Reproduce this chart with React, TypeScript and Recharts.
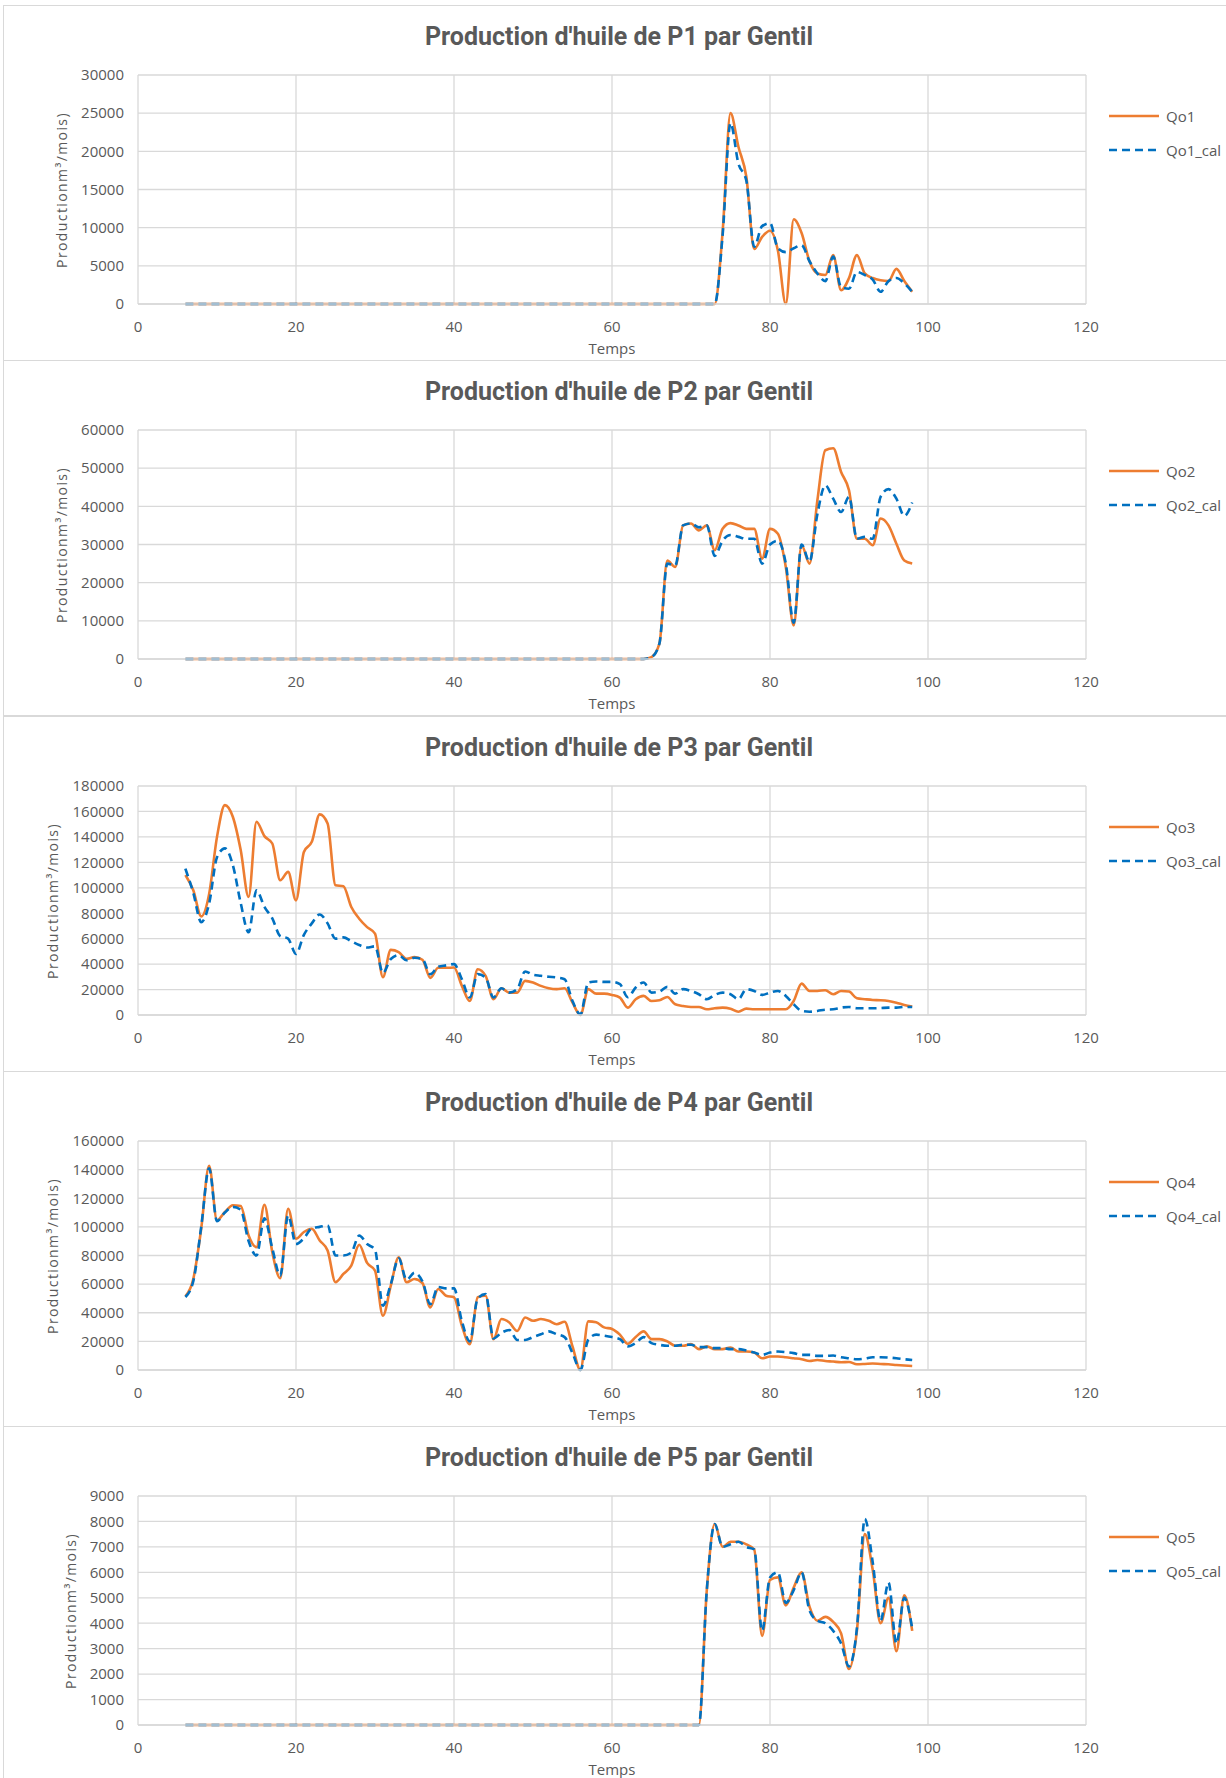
import React from 'react';
import { LineChart, Line, XAxis, YAxis, CartesianGrid } from 'recharts';

// Temps (mois) — flat zero runs keep only their end points
const TEMPS_P1 = [6, 73, 74, 75, 76, 77, 78, 79, 80, 81, 82, 83, 84, 85, 86, 87, 88, 89, 90, 91, 92, 93, 94, 95, 96, 97, 98];
const QO1 = [0, 0, 9400, 25000, 20600, 16700, 7200, 8800, 9600, 7000, 0, 11100, 9300, 5600, 4000, 3800, 6400, 1800, 3400, 6400, 4000, 3400, 3100, 3000, 4600, 3000, 1600];
const QO1_CAL = [0, 0, 9000, 23700, 18400, 16200, 7500, 10200, 10600, 7300, 6800, 7300, 7700, 5600, 4000, 3000, 6200, 2200, 2000, 4200, 3800, 3200, 1600, 3000, 3400, 2700, 1600];

const TEMPS_P2 = [6, 64, 65, 66, 67, 68, 69, 70, 71, 72, 73, 74, 75, 76, 77, 78, 79, 80, 81, 82, 83, 84, 85, 86, 87, 88, 89, 90, 91, 92, 93, 94, 95, 96, 97, 98];
const QO2 = [0, 0, 500, 4000, 25800, 24100, 35000, 35500, 33700, 35000, 28500, 34100, 35600, 35000, 34100, 34100, 26300, 34100, 32800, 24100, 8800, 29800, 25000, 41600, 54700, 55200, 49000, 44200, 31500, 31500, 29800, 36800, 35000, 30200, 25800, 25000];
const QO2_CAL = [0, 0, 500, 4000, 25000, 24500, 35000, 35500, 34500, 35000, 27000, 31000, 32500, 32000, 31500, 31500, 25000, 30000, 31000, 25000, 9500, 30000, 25500, 38000, 45500, 42000, 38500, 42500, 31500, 32000, 31500, 42500, 44500, 42000, 37500, 41000];

const TEMPS_FULL = [
  6, 7, 8, 9, 10, 11, 12, 13, 14, 15, 16, 17, 18, 19, 20, 21, 22, 23, 24, 25, 26, 27, 28, 29, 30, 31, 32, 33, 34, 35, 36, 37, 38, 39,
  40, 41, 42, 43, 44, 45, 46, 47, 48, 49, 50, 51, 52, 53, 54, 55, 56, 57, 58, 59, 60, 61, 62, 63, 64, 65, 66, 67, 68, 69,
  70, 71, 72, 73, 74, 75, 76, 77, 78, 79, 80, 81, 82, 83, 84, 85, 86, 87, 88, 89, 90, 91, 92, 93, 94, 95, 96, 97, 98,
];
const QO3 = [
  110000, 98000, 77500, 95000, 140000, 165000, 155800, 129600, 92800, 151900, 140600, 134800, 105900, 112500, 90100, 128200, 136100, 157700, 150600, 102000, 101200, 84900, 75700, 69100, 63900, 29700, 51200, 49400, 44100, 45500, 43400, 29200, 37100, 37100,
  37300, 22900, 11000, 36000, 30800, 12400, 21000, 17600, 17600, 26800, 25500, 22900, 21000, 20300, 21000, 9700, 0, 20300, 16800, 16800, 15800, 13700, 5800, 12400, 15000, 11000, 11600, 14200, 8400, 7100,
  6300, 6300, 4500, 5300, 5800, 5000, 2600, 5000, 4500, 4500, 4500, 4500, 4500, 11000, 24700, 18900, 18900, 19500, 16300, 18900, 18400, 13100, 12400, 11800, 11600, 11000, 9700, 7900, 6600,
];
const QO3_CAL = [
  115000, 96000, 73000, 87500, 124000, 131000, 118000, 88000, 65000, 98000, 85000, 76000, 62000, 60000, 48000, 63000, 72000, 79000, 72000, 60000, 61000, 58000, 55000, 53000, 54000, 33000, 44000, 47000, 43000, 45000, 44000, 32000, 38000, 39000,
  40000, 28100, 13700, 32100, 29500, 13700, 21000, 17600, 20300, 34200, 31600, 30800, 30000, 29500, 28100, 11000, 500, 25500, 26300, 26000, 26000, 24200, 14000, 21600, 25500, 17600, 18400, 22100, 16800, 20300,
  18900, 16300, 12400, 15800, 17600, 16300, 12400, 20300, 18900, 15800, 17600, 18900, 15000, 8400, 3200, 2600, 3200, 4200, 4500, 5800, 6300, 5300, 5300, 5300, 5500, 5800, 5800, 6300, 6300,
];

const QO4 = [
  51500, 63600, 98700, 142700, 104600, 110400, 115100, 114600, 94000, 85800, 115500, 82300, 64100, 112700, 91700, 96400, 98700, 90500, 83500, 61300, 67100, 73000, 87500, 74800, 69500, 37900, 58900, 78800, 61300, 63600, 60800, 43700, 56600, 51900,
  50800, 30900, 18000, 50800, 51900, 21500, 35600, 33200, 27300, 36700, 34400, 35600, 34400, 32000, 33700, 16500, 0, 34000, 33400, 29800, 28700, 24700, 18300, 23000, 27000, 21600, 21600, 20000, 16900, 16900,
  18100, 14600, 16500, 14600, 14600, 15700, 12900, 12900, 12200, 8200, 9400, 9400, 8900, 8200, 7500, 6300, 7000, 6300, 5900, 5400, 5600, 4000, 4200, 4500, 4200, 4000, 3500, 3100, 2800,
];
const QO4_CAL = [
  51000, 62000, 100000, 141000, 104000, 110000, 114000, 112000, 90000, 80000, 106000, 85000, 66000, 108000, 88000, 92000, 99000, 100000, 101000, 80000, 80000, 82000, 94000, 88000, 84000, 45000, 60000, 78000, 63000, 68000, 62000, 46000, 58000, 57000,
  57000, 34000, 20000, 50000, 53000, 22000, 26000, 28000, 21000, 21000, 23000, 25000, 27000, 25000, 23000, 11800, 0, 21200, 24700, 24000, 23000, 21600, 16500, 18800, 23000, 18800, 17600, 16900, 16900, 17600,
  17600, 16000, 16000, 15300, 15300, 14600, 14600, 13600, 12200, 10600, 12200, 12900, 12500, 11800, 10600, 10600, 9900, 9900, 10100, 8900, 8200, 7500, 8000, 8900, 8900, 8700, 8200, 7500, 7000,
];

const TEMPS_P5 = [6, 71, 72, 73, 74, 75, 76, 77, 78, 79, 80, 81, 82, 83, 84, 85, 86, 87, 88, 89, 90, 91, 92, 93, 94, 95, 96, 97, 98];
const QO5 = [0, 0, 5300, 7900, 7000, 7200, 7200, 7100, 6900, 3500, 5700, 5800, 4700, 5400, 6000, 4650, 4100, 4250, 4050, 3600, 2200, 3700, 7500, 6100, 4000, 5000, 2900, 5100, 3700];
const QO5_CAL = [0, 0, 5300, 7900, 7000, 7100, 7200, 7000, 6900, 3700, 5800, 6000, 4800, 5300, 6000, 4500, 4100, 4000, 3700, 3200, 2300, 3800, 8100, 6400, 4100, 5600, 3200, 5000, 3800];

const X_TICKS = [0, 20, 40, 60, 80, 100, 120];
const Y_TICKS_P1 = [0, 5000, 10000, 15000, 20000, 25000, 30000];
const Y_TICKS_P2 = [0, 10000, 20000, 30000, 40000, 50000, 60000];
const Y_TICKS_P3 = [0, 20000, 40000, 60000, 80000, 100000, 120000, 140000, 160000, 180000];
const Y_TICKS_P4 = [0, 20000, 40000, 60000, 80000, 100000, 120000, 140000, 160000];
const Y_TICKS_P5 = [0, 1000, 2000, 3000, 4000, 5000, 6000, 7000, 8000, 9000];

const ORANGE = '#ED7D31';
const BLUE = '#0070C0';
const GRID = '#d9d9d9';
const TEXT = '#595959';
const FONT = '"Open Sans", "Noto Sans", sans-serif';

const PANEL_TOPS = [5, 360, 716, 1071, 1426];

interface PanelProps {
  top: number;
  title: string;
  temps: number[];
  qo: number[];
  cal: number[];
  name: string;
  yTicks: number[];
  labelX: number;
}

function Panel({ top, title, temps, qo, cal, name, yTicks, labelX }: PanelProps) {
  const rows = temps.map((t, i) => ({ t, qo: qo[i], cal: cal[i] }));
  const tickStyle = { fill: TEXT, fontSize: 15, fontFamily: FONT };

  return (
    <div
      style={{
        position: 'absolute',
        left: 3,
        top,
        width: 1260,
        height: 356,
        border: `1px solid ${GRID}`,
        boxSizing: 'border-box',
        background: '#fff',
      }}
    >
      <div
        style={{
          position: 'absolute',
          left: 0,
          width: 1230,
          top: 16,
          textAlign: 'center',
          fontFamily: 'Roboto, sans-serif',
          fontWeight: 700,
          fontSize: 25,
          color: TEXT,
          lineHeight: '30px',
        }}
      >
        {title}
      </div>

      <LineChart width={1240} height={354} data={rows} margin={{ top: 69, right: 158, bottom: 0, left: 0 }}>
        <CartesianGrid stroke={GRID} strokeWidth={1.3} />
        <XAxis
          dataKey="t"
          type="number"
          domain={[0, 120]}
          ticks={X_TICKS}
          interval={0}
          tickSize={0}
          tickMargin={17}
          height={56}
          axisLine={{ stroke: GRID, strokeWidth: 1.3 }}
          tick={tickStyle}
        />
        <YAxis
          type="number"
          domain={[0, yTicks[yTicks.length - 1]]}
          ticks={yTicks}
          interval={0}
          width={134}
          tickSize={0}
          tickMargin={14}
          axisLine={false}
          tick={tickStyle}
        />
        <Line
          type="monotone"
          dataKey="qo"
          stroke={ORANGE}
          strokeWidth={2.6}
          dot={false}
          activeDot={false}
          isAnimationActive={false}
        />
        <Line
          type="monotone"
          dataKey="cal"
          stroke={BLUE}
          strokeWidth={2.6}
          strokeDasharray="8 5"
          dot={false}
          activeDot={false}
          isAnimationActive={false}
        />
      </LineChart>

      {/* y axis title */}
      <div
        style={{
          position: 'absolute',
          left: labelX,
          top: 69 + 229 / 2,
          transform: 'translate(-50%, -50%) rotate(-90deg)',
          whiteSpace: 'nowrap',
          fontFamily: FONT,
          fontSize: 14,
          letterSpacing: 1.4,
          color: TEXT,
        }}
      >
        Productionm³/mois)
      </div>

      {/* x axis title */}
      <div
        style={{
          position: 'absolute',
          left: 608,
          top: 69 + 229 + 44,
          transform: 'translate(-50%, -50%)',
          fontFamily: FONT,
          fontSize: 15,
          color: TEXT,
        }}
      >
        Temps
      </div>

      {/* legend */}
      {[
        { label: name, color: ORANGE, dash: undefined, y: 110 },
        { label: `${name}_cal`, color: BLUE, dash: '8 5', y: 144 },
      ].map((item) => (
        <div
          key={item.label}
          style={{ position: 'absolute', left: 1105, top: item.y - 10, height: 20, display: 'flex', alignItems: 'center' }}
        >
          <svg width={52} height={20}>
            <line x1={0} y1={10} x2={50} y2={10} stroke={item.color} strokeWidth={2.6} strokeDasharray={item.dash} />
          </svg>
          <span style={{ marginLeft: 5, fontFamily: FONT, fontSize: 15, color: TEXT }}>{item.label}</span>
        </div>
      ))}
    </div>
  );
}

export default function App() {
  return (
    <div
      style={{
        position: 'absolute',
        left: 0,
        top: 0,
        width: 1226,
        height: 1778,
        overflow: 'hidden',
        background: '#fff',
      }}
    >
      <Panel top={PANEL_TOPS[0]} title="Production d'huile de P1 par Gentil" temps={TEMPS_P1} qo={QO1} cal={QO1_CAL} name="Qo1" yTicks={Y_TICKS_P1} labelX={57} />
      <Panel top={PANEL_TOPS[1]} title="Production d'huile de P2 par Gentil" temps={TEMPS_P2} qo={QO2} cal={QO2_CAL} name="Qo2" yTicks={Y_TICKS_P2} labelX={57} />
      <Panel top={PANEL_TOPS[2]} title="Production d'huile de P3 par Gentil" temps={TEMPS_FULL} qo={QO3} cal={QO3_CAL} name="Qo3" yTicks={Y_TICKS_P3} labelX={48} />
      <Panel top={PANEL_TOPS[3]} title="Production d'huile de P4 par Gentil" temps={TEMPS_FULL} qo={QO4} cal={QO4_CAL} name="Qo4" yTicks={Y_TICKS_P4} labelX={48} />
      <Panel top={PANEL_TOPS[4]} title="Production d'huile de P5 par Gentil" temps={TEMPS_P5} qo={QO5} cal={QO5_CAL} name="Qo5" yTicks={Y_TICKS_P5} labelX={66} />
    </div>
  );
}
